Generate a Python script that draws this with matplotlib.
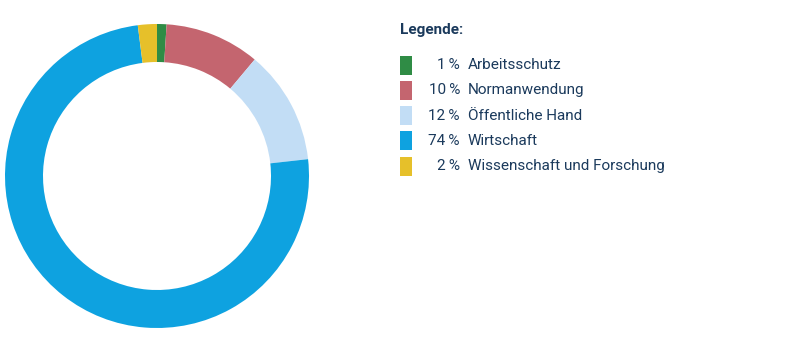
import matplotlib
matplotlib.use("Agg")
import matplotlib.pyplot as plt
from matplotlib.patches import Rectangle

categories = ["Arbeitsschutz", "Normanwendung", "Öffentliche Hand", "Wirtschaft", "Wissenschaft und Forschung"]
values = [1, 10, 12, 74, 2]
colors = ["#2f8c45", "#c4656f", "#c2ddf5", "#0ea2e0", "#e6c02a"]
text_color = "#1b3a5c"

W, H = 801, 351
fig = plt.figure(figsize=(W / 100, H / 100), dpi=100)

cx, cy, r = 157, 176, 152
ax = fig.add_axes([(cx - r) / W, (H - cy - r) / H, 2 * r / W, 2 * r / H])
ax.pie(values, colors=colors, startangle=90, counterclock=False, radius=1,
       wedgeprops=dict(width=0.25, edgecolor="none"))
ax.set_xlim(-1, 1)
ax.set_ylim(-1, 1)
ax.set_aspect("equal")
ax.axis("off")

font = "Roboto"
fs = 11
fig.text(400 / W, 1 - 30 / H, "Legende:", fontsize=fs, fontweight="bold",
         color=text_color, family=font, va="center", ha="left")

row_y0, row_dy = 65, 25.3
for i, (cat, val, col) in enumerate(zip(categories, values, colors)):
    y = row_y0 + i * row_dy
    fig.patches.append(Rectangle((400 / W, 1 - (y + 9.5) / H), 12 / W, 19 / H,
                                 transform=fig.transFigure, facecolor=col,
                                 edgecolor="none"))
    fig.text(460 / W, 1 - y / H, f"{val}\u2009%", fontsize=fs, color=text_color,
             family=[font, "DejaVu Sans"], va="center", ha="right")
    fig.text(468 / W, 1 - y / H, cat, fontsize=fs, color=text_color,
             family=font, va="center", ha="left")

fig.savefig("out.png", dpi=100)
